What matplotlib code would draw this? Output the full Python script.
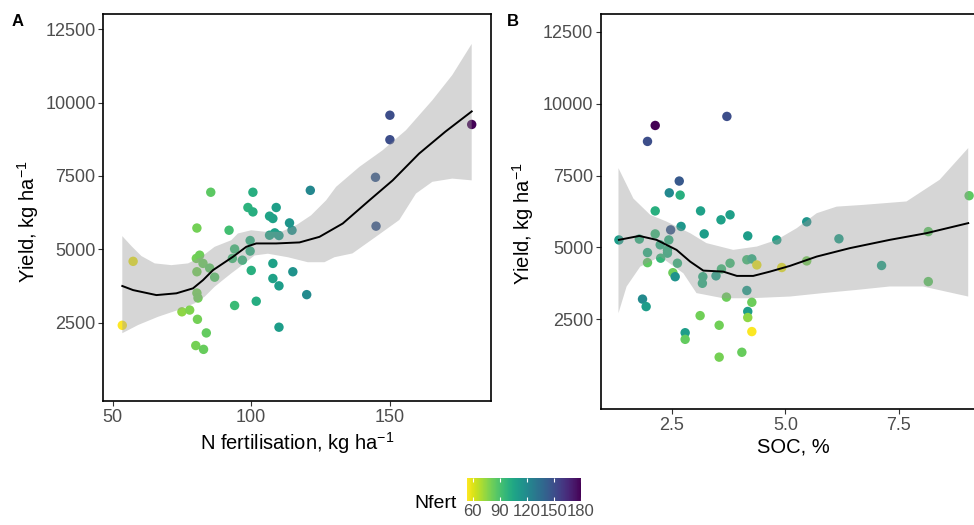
import numpy as np
import matplotlib
matplotlib.use("Agg")
import matplotlib.pyplot as plt
from matplotlib.colors import Normalize
from matplotlib.cm import ScalarMappable

plt.rcParams['font.family'] = ['Liberation Sans', 'DejaVu Sans']
plt.rcParams['mathtext.default'] = 'regular'

# ---- panel A: yield vs N fertilisation (colour = N fertilisation) ----
n_fert_a = [53.5, 57.4, 75, 77.8, 80, 82.8, 83.8, 80.6, 80.4, 80.8,
            80.4, 80.2, 81.4, 82.6, 85, 86.8, 80.4, 85.4, 92, 94,
            93.2, 96.8, 94, 99.6, 99.6, 100, 101.8, 98.8, 100.6, 100.6,
            106.6, 107.8, 109, 106.6, 108.5, 110, 107.8, 107.8, 110, 110,
            113.8, 114.7, 115, 120, 121.3, 145, 144.8, 150, 150, 179.5]
yield_a = [2410, 4590, 2870, 2930, 1720, 1590, 2150, 2615, 3510, 3340,
           4235, 4690, 4800, 4520, 4360, 4050, 5725, 6945, 5650, 5010,
           4690, 4630, 3085, 5300, 4940, 4280, 3230, 6425, 6275, 6945,
           6130, 6050, 6425, 5480, 5560, 5470, 4520, 4005, 3755, 2345,
           5900, 5650, 4235, 3455, 7010, 5790, 7455, 8735, 9570, 9255]

# loess fit
smooth_x_a = [53.5, 57.4, 65.8, 73, 79, 82.6, 86.2, 93.4, 98.2, 101.8,
              109, 117.4, 124.6, 133, 142.6, 151, 160.5, 170, 179.5]
smooth_y_a = [3750, 3610, 3440, 3500, 3670, 3950, 4290, 4745, 5085, 5200,
              5200, 5235, 5425, 5880, 6670, 7350, 8260, 9010, 9700]
upper_x_a = [53.5, 56.8, 60.4, 65.2, 71.2, 77.2, 82, 86.8, 92.8, 95.2, 100,
             104.8, 110.8, 116.2, 121.6, 127, 130.6, 139, 147.3, 155.8,
             165.3, 172.5, 179.5]
upper_y_a = [5450, 5110, 4770, 4520, 4460, 4520, 4740, 5085, 5310, 5540, 5650,
             5600, 5600, 5820, 6160, 6670, 7130, 7810, 8370, 9060,
             10080, 10940, 12000]
lower_x_a = [53.5, 59.2, 66.4, 73.6, 79.6, 83.2, 86.8, 92.8, 95.2, 101.2,
             106, 113.2, 120.4, 126.4, 130, 136.5, 145, 153.4, 159.4, 165.3,
             172.5, 179.5]
lower_y_a = [2140, 2420, 2700, 2930, 3160, 3385, 3725, 4180, 4350, 4790,
             4850, 4730, 4560, 4560, 4730, 4860, 5430, 6000, 6900, 7300,
             7410, 7350]

# ---- panel B: yield vs SOC (colour = N fertilisation) ----
soc_b = [2.13, 1.96, 3.71, 2.66, 2.44, 2.68, 9.05, 2.13, 3.13, 3.58,
         3.78, 2.70, 5.47, 2.47, 2.13, 3.21, 4.17, 1.33, 1.78, 2.43,
         2.24, 4.81, 6.18, 8.15, 1.96, 2.40, 2.40, 2.25, 1.96, 2.62,
         2.52, 2.57, 3.18, 3.17, 3.47, 3.59, 3.78, 4.15, 4.26, 4.37,
         4.92, 5.47, 7.12, 8.15, 1.85, 1.93, 4.15, 3.70, 4.26, 4.17,
         4.17, 3.12, 3.54, 4.26, 2.79, 2.79, 3.54, 4.04]
yield_b = [9245, 8690, 9560, 7310, 6900, 6820, 6800, 6270, 6270, 5960,
           6135, 5730, 5890, 5610, 5470, 5470, 5400, 5260, 5290, 5260,
           5090, 5260, 5300, 5550, 4820, 4800, 4910, 4625, 4470, 4450,
           4120, 3980, 3980, 3750, 4010, 4250, 4450, 4570, 4600, 4390,
           4300, 4530, 4370, 3810, 3200, 2940, 3500, 3270, 3090, 2770,
           2560, 2625, 2290, 2070, 2030, 1800, 1180, 1350]
n_fert_b = [180, 150, 150, 145, 121, 100, 85, 100, 108, 108,
            109, 113, 114, 145, 95, 110, 110, 110, 99, 99,
            100, 107, 108, 85, 100, 100, 99, 96, 85, 97,
            82, 115, 100, 100, 107, 94, 93, 93, 100, 57,
            57, 80, 106, 85, 120, 110, 110, 82, 82, 110,
            75, 81, 81, 54, 110, 84, 80, 83]

smooth_x_b = [1.33, 1.78, 2.16, 2.60, 2.90, 3.19, 3.63, 3.93, 4.29, 4.66,
              5.10, 5.69, 6.42, 7.30, 8.11, 9.03]
smooth_y_b = [5263, 5400, 5263, 4914, 4507, 4193, 4158, 4008, 4008, 4158,
              4357, 4681, 4974, 5263, 5496, 5845]
upper_x_b = [1.32, 1.65, 2.02, 2.38, 2.75, 2.90, 3.26, 3.85, 4.37, 4.81,
             5.25, 5.69, 6.13, 6.71, 7.67, 8.4, 9.03]
upper_y_b = [7760, 6700, 6134, 5900, 5611, 5496, 5150, 4914, 5030, 5263,
             5670, 6190, 6420, 6480, 6600, 7354, 8458]
lower_x_b = [1.32, 1.50, 1.80, 2.24, 2.75, 3.04, 3.63, 4.22, 5.10, 5.83,
             6.57, 7.30, 8.03, 9.03]
lower_y_b = [2710, 3640, 4330, 4680, 4100, 3410, 3230, 3230, 3290, 3410,
             3520, 3640, 3640, 3290]

nfert_ticks = [60, 90, 120, 150, 180]
yield_ticks = [2500, 5000, 7500, 10000, 12500]

W, H = 974, 525
fig = plt.figure(figsize=(W / 100, H / 100), dpi=100)
norm = Normalize(vmin=53.5, vmax=180)
cmap = plt.get_cmap('viridis_r')


def panel(rect, x, y, c, sx, sy, ux, uy, lx, ly, xlim, ylim, xticks, xticklabels,
          xlabel, ylab_x, ylab_y):
    ax = fig.add_axes(rect)
    ax.scatter(x, y, c=c, cmap=cmap, norm=norm, s=46, linewidths=0, zorder=2)
    poly_x = list(ux) + list(lx)[::-1]
    poly_y = list(uy) + list(ly)[::-1]
    ax.fill(poly_x, poly_y, color='#999999', alpha=0.4, lw=0, zorder=3)
    ax.plot(sx, sy, color='black', lw=1.4, zorder=4)
    ax.set_xlim(*xlim)
    ax.set_ylim(*ylim)
    ax.set_xticks(xticks)
    ax.set_xticklabels(xticklabels)
    ax.set_yticks(yield_ticks)
    ax.tick_params(length=3.5, width=0.8, color='#333333', labelcolor='#4D4D4D',
                   labelsize=13, pad=2)
    for s in ax.spines.values():
        s.set_linewidth(1.2)
        s.set_color('black')
    ax.set_xlabel(xlabel, fontsize=14.5, labelpad=3)
    ax.set_ylabel('Yield, kg ha$^{-1}$', fontsize=14.5)
    # y title anchor (right edge of the rotated text) in figure pixels
    ax.yaxis.set_label_coords(ylab_x / W, 1 - ylab_y / H, transform=fig.transFigure)
    return ax


axA = panel([103.3 / W, 1 - 401 / H, (490.7 - 103.3) / W, (401 - 14) / H],
            n_fert_a, yield_a, n_fert_a, smooth_x_a, smooth_y_a,
            upper_x_a, upper_y_a, lower_x_a, lower_y_a,
            (46.65, 186.35), (-170, 13020), [50, 100, 150], ['50', '100', '150'],
            'N fertilisation, kg ha$^{-1}$', 41, 222)
axB = panel([601 / W, 1 - 409 / H, (985 - 601) / W, (409 - 14) / H],
            soc_b, yield_b, n_fert_b, smooth_x_b, smooth_y_b,
            upper_x_b, upper_y_b, lower_x_b, lower_y_b,
            (0.935, 9.4), (-625, 13125), [2.5, 5.0, 7.5], ['2.5', '5.0', '7.5'],
            'SOC, %', 536, 224)

fig.text(12 / W, 1 - 21 / H, 'A', fontsize=12, fontweight='bold', va='center')
fig.text(507 / W, 1 - 21 / H, 'B', fontsize=12, fontweight='bold', va='center')

# colour bar legend
cax = fig.add_axes([467 / W, 1 - 501 / H, 114 / W, 23 / H])
cb = fig.colorbar(ScalarMappable(norm=norm, cmap=cmap), cax=cax, orientation='horizontal')
cb.outline.set_visible(False)
cb.set_ticks(nfert_ticks)
cax.tick_params(direction='in', color='white', length=3, width=0.8, top=True,
                labelcolor='#4D4D4D', labelsize=12, pad=2)
fig.text(436 / W, 1 - 504 / H, 'Nfert', fontsize=14, ha='center', va='center')

fig.savefig('out.png', dpi=100)
